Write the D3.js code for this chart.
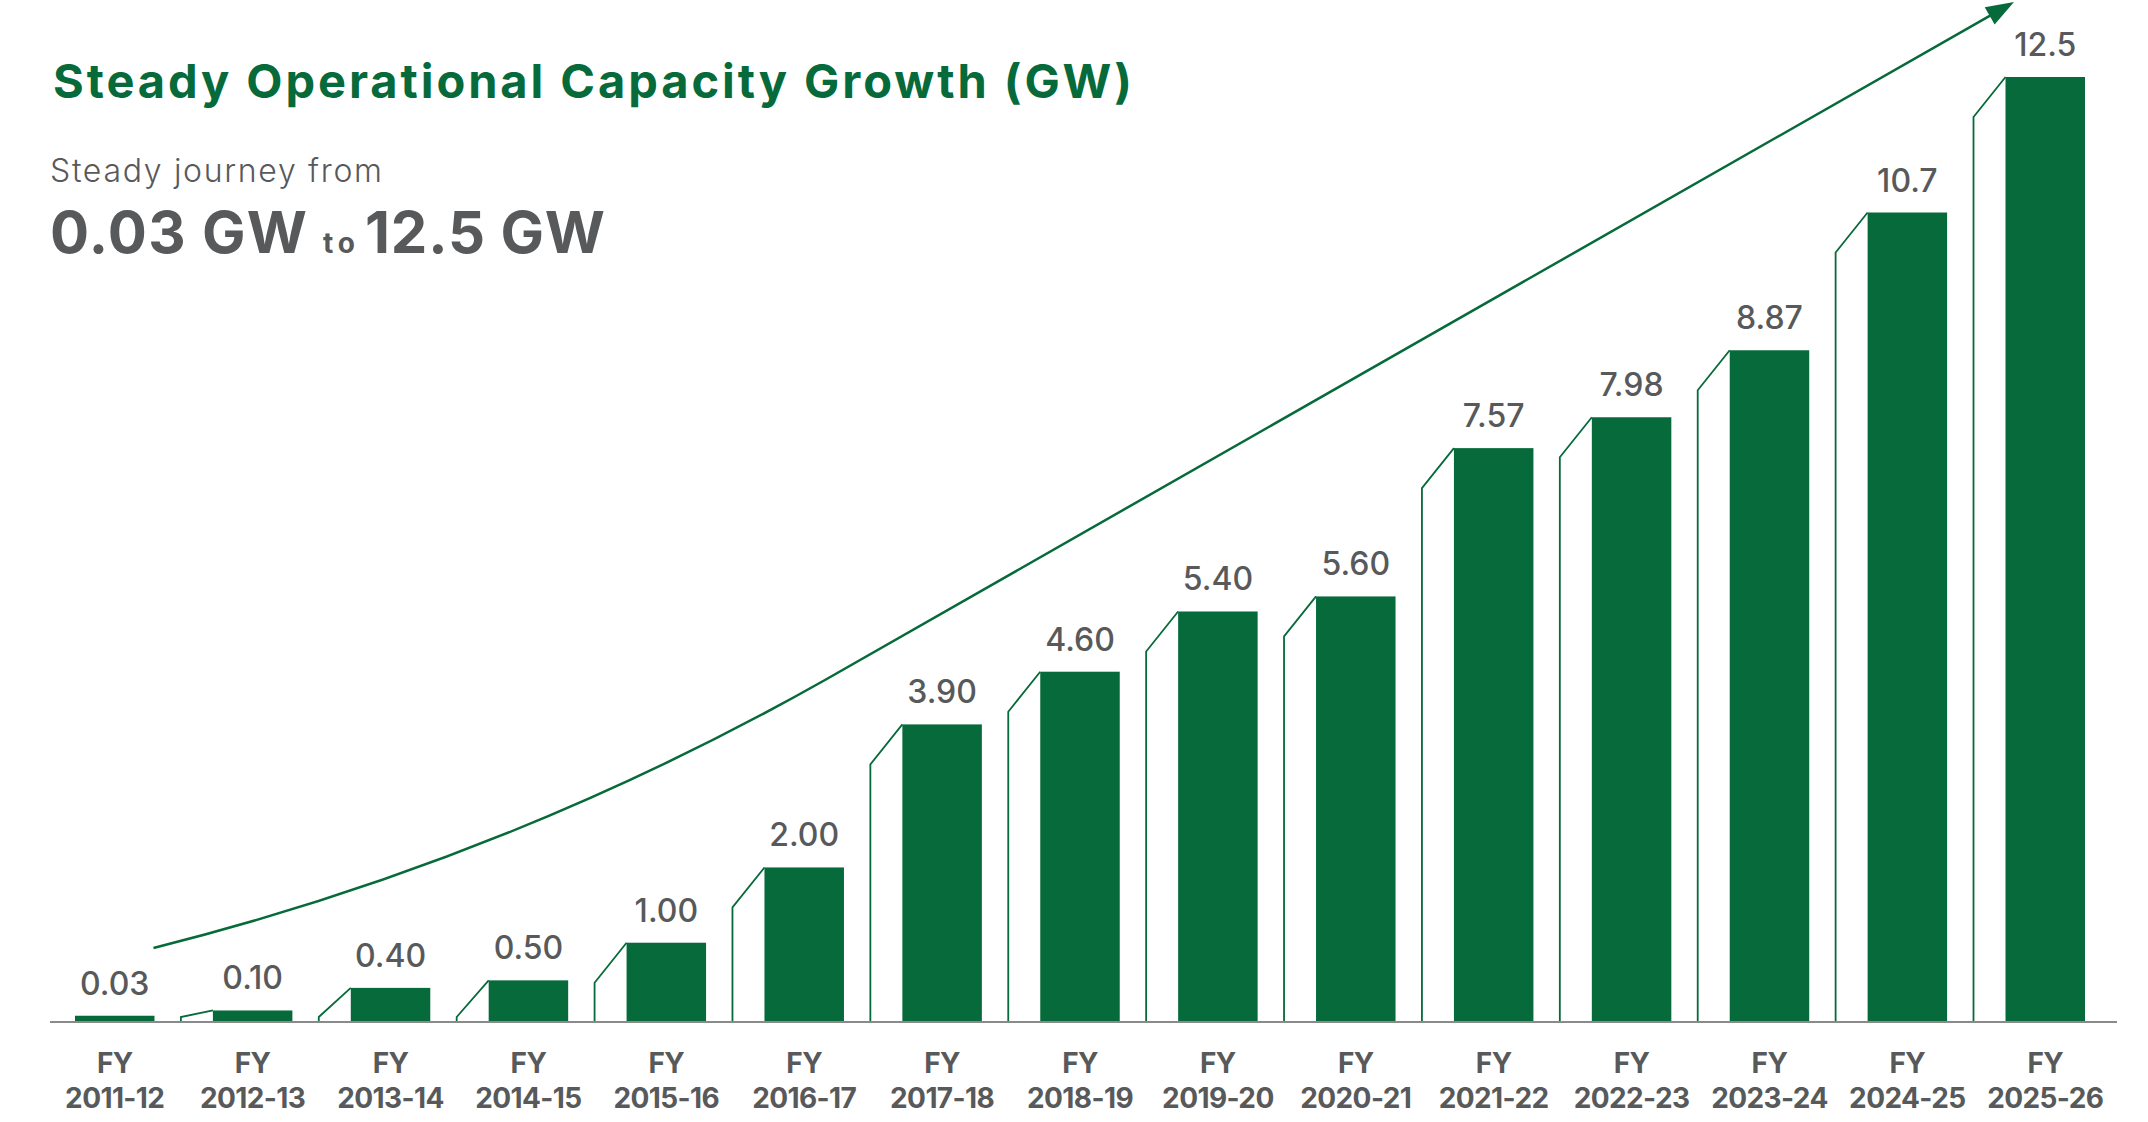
<!DOCTYPE html>
<html>
<head>
<meta charset="utf-8">
<script src="https://cdn.jsdelivr.net/npm/d3@7"></script>
<style>
  html, body { margin: 0; padding: 0; background: #fff; }
  svg { display: block; }
</style>
</head>
<body>
<div id="chart"></div>
<script>
// Data
const years = ["2011-12", "2012-13", "2013-14", "2014-15", "2015-16", "2016-17", "2017-18",
    "2018-19", "2019-20", "2020-21", "2021-22", "2022-23", "2023-24", "2024-25", "2025-26"];
const capacity = [0.03, 0.10, 0.40, 0.50, 1.00, 2.00, 3.90, 4.60, 5.40, 5.60, 7.57, 7.98, 8.87, 10.7, 12.5];
const valueLabels = ["0.03", "0.10", "0.40", "0.50", "1.00", "2.00", "3.90", "4.60", "5.40", "5.60",
    "7.57", "7.98", "8.87", "10.7", "12.5"];

const width = 2148;
const height = 1122;
const green = "#066a3a";
const grey = "#58595b";
const baseY = 1022;
const font = "Inter, 'Noto Sans', sans-serif";

const svg = d3.select("#chart").append("svg")
    .attr("width", width)
    .attr("height", height);

// stretch or squeeze letter spacing so a text ends where the reference does
function fitWidth(sel, target) {
    const node = sel.node();
    const w = node.getComputedTextLength();
    const n = sel.text().length;
    if (n > 1) sel.style("letter-spacing", ((target - w) / (n - 1)) + "px");
}

// Titles
const title = svg.append("text")
    .attr("x", 53)
    .attr("y", 98)
    .style("font-family", font)
    .style("font-weight", 700)
    .style("font-size", "47px")
    .attr("fill", green)
    .text("Steady Operational Capacity Growth (GW)");
fitWidth(title, 1079);

const sub = svg.append("text")
    .attr("x", 50)
    .attr("y", 182)
    .style("font-family", font)
    .style("font-weight", 300)
    .style("font-size", "32px")
    .attr("fill", grey)
    .text("Steady journey from");
fitWidth(sub, 332);

// "0.03 GW to 12.5 GW" built from three pieces
const bigParts = [
    { text: "0.03 GW", x: 50, w: 257, size: 58 },
    { text: "to", x: 323, w: 32, size: 28 },
    { text: "12.5 GW", x: 365, w: 240, size: 58 }
];
bigParts.forEach(p => {
    const t = svg.append("text")
        .attr("x", p.x)
        .attr("y", 253)
        .style("font-family", font)
        .style("font-weight", 700)
        .style("font-size", p.size + "px")
        .attr("fill", grey)
        .text(p.text);
    fitWidth(t, p.w);
});

// Scales
const x = d3.scaleBand()
    .domain(years)
    .range([75, 2085])
    .paddingInner(0.4235)
    .paddingOuter(0);

const y = d3.scaleLinear()
    .domain([0, 12.5])
    .range([1018, 77]);

// Trend arrow
const aStart = [x(years[0]) + x.bandwidth() - 1, 948];
const aMid = [825, 680];
const aCtrl = [508, 859];
const aTip = [2014, 2];
const dirX = aTip[0] - aMid[0], dirY = aTip[1] - aMid[1];
const len = Math.hypot(dirX, dirY);
const ux = dirX / len, uy = dirY / len;
const headLen = 28, headHalf = 10;
const headBase = [aTip[0] - ux * headLen, aTip[1] - uy * headLen];

const arrowPath = d3.path();
arrowPath.moveTo(aStart[0], aStart[1]);
arrowPath.quadraticCurveTo(aCtrl[0], aCtrl[1], aMid[0], aMid[1]);
arrowPath.lineTo(headBase[0] + ux * 4, headBase[1] + uy * 4);

svg.append("path")
    .attr("d", arrowPath.toString())
    .attr("fill", "none")
    .attr("stroke", green)
    .attr("stroke-width", 2.5);

svg.append("polygon")
    .attr("points", [
        aTip,
        [headBase[0] - uy * headHalf, headBase[1] + ux * headHalf],
        [headBase[0] + uy * headHalf, headBase[1] - ux * headHalf]
    ].map(p => p.join(",")).join(" "))
    .attr("fill", green);

// Side outlines behind each bar
const depthX = 32, depthY = 40;
svg.append("g")
    .selectAll("path")
    .data(capacity.map((v, i) => ({ v, year: years[i] })).filter(d => baseY - y(d.v) > 10))
    .join("path")
    .attr("d", d => {
        const left = x(d.year);
        const top = y(d.v);
        const vTop = Math.min(baseY - 5, top + depthY);
        return `M${left - depthX},${baseY}V${vTop}L${left},${top}`;
    })
    .attr("fill", "none")
    .attr("stroke", green)
    .attr("stroke-width", 1.8);

// Bars
svg.append("g")
    .selectAll("rect")
    .data(capacity)
    .join("rect")
    .attr("x", (d, i) => x(years[i]))
    .attr("y", d => y(d))
    .attr("width", x.bandwidth())
    .attr("height", d => baseY - y(d))
    .attr("fill", green);

// Baseline
svg.append("line")
    .attr("x1", 50)
    .attr("x2", 2117)
    .attr("y1", baseY)
    .attr("y2", baseY)
    .attr("stroke", "#8a8a8a")
    .attr("stroke-width", 2);

// Value labels
svg.append("g")
    .selectAll("text")
    .data(capacity)
    .join("text")
    .attr("x", (d, i) => x(years[i]) + x.bandwidth() / 2)
    .attr("y", d => y(d) - 21)
    .attr("text-anchor", "middle")
    .style("font-family", font)
    .style("font-weight", 500)
    .style("font-size", "32px")
    .attr("fill", grey)
    .text((d, i) => valueLabels[i]);

// Category labels
const cat = svg.append("g")
    .selectAll("text")
    .data(years)
    .join("text")
    .attr("text-anchor", "middle")
    .style("font-family", font)
    .style("font-weight", 700)
    .style("font-size", "28px")
    .style("letter-spacing", "-0.6px")
    .attr("fill", grey);
cat.append("tspan").attr("x", d => x(d) + x.bandwidth() / 2).attr("y", 1073).text("FY");
cat.append("tspan").attr("x", d => x(d) + x.bandwidth() / 2).attr("y", 1108).text(d => d);
</script>
</body>
</html>
